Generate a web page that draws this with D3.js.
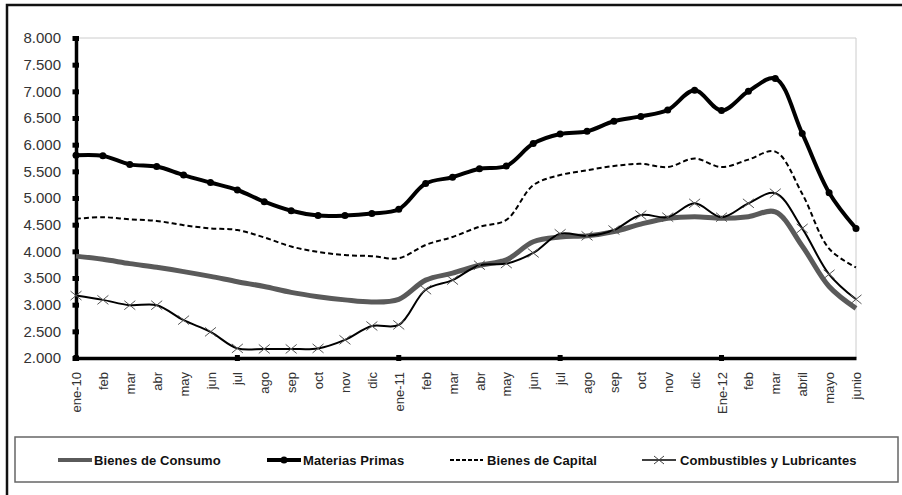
<!DOCTYPE html>
<html>
<head>
<meta charset="utf-8">
<script src="https://cdn.jsdelivr.net/npm/d3@7"></script>
<style>
  body { margin: 0; background: #fff; }
  svg text { font-family: "Liberation Sans", Arial, sans-serif; }
</style>
</head>
<body>
<svg id="chart" width="902" height="495"></svg>
<script>
// month labels, ene-2010 .. junio-2012
var months = ["ene-10","feb","mar","abr","may","jun","jul","ago","sep","oct","nov","dic",
              "ene-11","feb","mar","abr","may","jun","jul","ago","sep","oct","nov","dic",
              "Ene-12","feb","mar","abril","mayo","junio"];

var yTicks = [2000,2500,3000,3500,4000,4500,5000,5500,6000,6500,7000,7500,8000];
var xTickMarks = [0,6,12,18,24];

var consumo = [3910,3850,3770,3700,3620,3530,3430,3340,3230,3150,3090,3050,
               3100,3460,3590,3740,3840,4180,4270,4290,4370,4510,4620,4650,
               4620,4650,4740,4100,3340,2930];
var materias = [5800,5790,5630,5590,5430,5290,5150,4930,4760,4670,4670,4710,
                4790,5270,5390,5550,5600,6020,6200,6250,6440,6530,6650,7020,
                6640,7000,7240,6210,5100,4430];
var capital = [4610,4640,4600,4570,4490,4430,4400,4260,4090,3990,3930,3910,
               3870,4120,4270,4460,4590,5240,5430,5520,5600,5640,5580,5740,
               5580,5720,5870,5080,4050,3700];
var combustibles = [3170,3090,2990,2990,2710,2490,2180,2170,2170,2180,2340,2600,
                    2620,3280,3460,3740,3770,3970,4330,4290,4400,4680,4640,4900,
                    4640,4900,5090,4430,3570,3100];

var seriesNames = ["Bienes de Consumo","Materias Primas","Bienes de Capital","Combustibles y Lubricantes"];

var svg = d3.select("#chart");

var plotLeft = 76, plotRight = 856, plotTop = 38, plotBottom = 358;

var x = d3.scalePoint().domain(d3.range(months.length)).range([plotLeft, plotRight]);
var y = d3.scaleLinear().domain([2000, 8000]).range([plotBottom, plotTop]);

var esFormat = d3.formatLocale({decimal: ",", thousands: ".", grouping: [3], currency: ["", ""]}).format(",d");

// outer frame (only top/left visible in the picture)
svg.append("rect")
    .attr("x", 7).attr("y", 5)
    .attr("width", 1000).attr("height", 600)
    .attr("fill", "none")
    .attr("stroke", "#111")
    .attr("stroke-width", 2.5);

// plot area border
svg.append("path")
    .attr("d", "M" + plotLeft + "," + plotTop + "H" + plotRight + "V" + plotBottom)
    .attr("fill", "none")
    .attr("stroke", "#ccc")
    .attr("stroke-width", 1);

// y axis
var yAxis = svg.append("g")
    .attr("transform", "translate(" + plotLeft + ",0)")
    .call(d3.axisLeft(y).tickValues(yTicks).tickFormat(esFormat).tickSizeInner(4).tickSizeOuter(0).tickPadding(12));
yAxis.select(".domain").attr("stroke", "#000").attr("stroke-width", 3.5);
yAxis.selectAll(".tick line").attr("x1", -3.5).attr("x2", 3).attr("stroke", "#000").attr("stroke-width", 5);
yAxis.selectAll(".tick text")
    .attr("font-size", 15)
    .attr("fill", "#333")
    .attr("x", -15);

// x axis
var xAxis = svg.append("g")
    .attr("transform", "translate(0," + plotBottom + ")")
    .call(d3.axisBottom(x).tickFormat(function(i) { return months[i]; }).tickSizeInner(0).tickSizeOuter(0));
xAxis.select(".domain").attr("stroke", "#000").attr("stroke-width", 3.5);
xAxis.selectAll(".tick line").remove();
xAxis.selectAll(".tick text")
    .attr("font-size", 13)
    .attr("fill", "#333")
    .attr("text-anchor", "end")
    .attr("transform", "rotate(-90)")
    .attr("x", -14)
    .attr("y", 0)
    .attr("dy", "0.35em");

svg.append("g").selectAll("rect")
    .data(xTickMarks)
    .join("rect")
    .attr("x", function(d) { return x(d) - 2.5; })
    .attr("y", plotBottom - 3)
    .attr("width", 5)
    .attr("height", 6)
    .attr("fill", "#000");

var line = d3.line()
    .x(function(d, i) { return x(i); })
    .y(function(d) { return y(d); })
    .curve(d3.curveCatmullRom.alpha(0.5));

// Bienes de Capital (dashed)
svg.append("path")
    .datum(capital)
    .attr("d", line)
    .attr("fill", "none")
    .attr("stroke", "#000")
    .attr("stroke-width", 2)
    .attr("stroke-dasharray", "5,3");

// Bienes de Consumo (grey thick)
svg.append("path")
    .datum(consumo)
    .attr("d", line)
    .attr("fill", "none")
    .attr("stroke", "#5a5a5a")
    .attr("stroke-width", 5);

// Combustibles y Lubricantes
svg.append("path")
    .datum(combustibles)
    .attr("d", line)
    .attr("fill", "none")
    .attr("stroke", "#000")
    .attr("stroke-width", 2);

svg.append("g").selectAll("path")
    .data(combustibles)
    .join("path")
    .attr("d", function(d, i) {
        var cx = x(i), cy = y(d);
        return "M" + (cx - 5.5) + "," + (cy - 4.5) + "L" + (cx + 5.5) + "," + (cy + 4.5) +
               "M" + (cx - 5.5) + "," + (cy + 4.5) + "L" + (cx + 5.5) + "," + (cy - 4.5);
    })
    .attr("stroke", "#555")
    .attr("stroke-width", 1);

// Materias Primas
svg.append("path")
    .datum(materias)
    .attr("d", line)
    .attr("fill", "none")
    .attr("stroke", "#000")
    .attr("stroke-width", 4);

svg.append("g").selectAll("circle")
    .data(materias)
    .join("circle")
    .attr("cx", function(d, i) { return x(i); })
    .attr("cy", function(d) { return y(d); })
    .attr("r", 3.5)
    .attr("fill", "#000");

// legend
svg.append("rect")
    .attr("x", 15).attr("y", 437)
    .attr("width", 883).attr("height", 45)
    .attr("fill", "none")
    .attr("stroke", "#666")
    .attr("stroke-width", 1.5);

var legendX = [58, 267, 450, 642];
var ly = 460;
var legend = svg.append("g");

seriesNames.forEach(function(name, k) {
    var lx = legendX[k];
    var g = legend.append("g").attr("transform", "translate(" + lx + "," + ly + ")");
    var l = g.append("line").attr("x1", 0).attr("x2", 34).attr("y1", 0).attr("y2", 0);
    if (k == 0) l.attr("stroke", "#5a5a5a").attr("stroke-width", 4);
    if (k == 1) {
        l.attr("stroke", "#000").attr("stroke-width", 4);
        g.append("circle").attr("cx", 17).attr("cy", 0).attr("r", 3.5).attr("fill", "#000");
    }
    if (k == 2) l.attr("stroke", "#000").attr("stroke-width", 2).attr("stroke-dasharray", "4,2").attr("x1", 0).attr("x2", 33);
    if (k == 3) {
        l.attr("stroke", "#000").attr("stroke-width", 1.5);
        g.append("path")
            .attr("d", "M12,-4L22,4M12,4L22,-4")
            .attr("stroke", "#444").attr("stroke-width", 1);
    }
    g.append("text")
        .attr("x", k == 2 ? 37 : (k == 3 ? 38 : 36))
        .attr("y", 0)
        .attr("dy", "0.35em")
        .attr("font-size", 13)
        .attr("font-weight", "bold")
        .attr("fill", "#111")
        .attr("letter-spacing", 0.1)
        .text(name);
});
</script>
</body>
</html>
